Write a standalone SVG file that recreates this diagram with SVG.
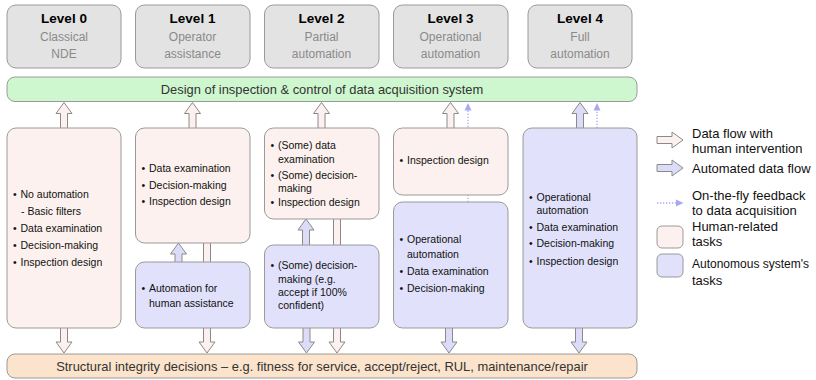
<svg xmlns="http://www.w3.org/2000/svg" width="816" height="380" viewBox="0 0 816 380">
<style>
text{font-family:"Liberation Sans",Arial,sans-serif;}
.hdr{fill:#e3e3e3;stroke:#9a9a9a;stroke-width:1;}
.lvl{font-size:13.5px;font-weight:bold;fill:#000;text-anchor:middle;}
.sub{font-size:12px;fill:#8a8a8a;text-anchor:middle;}
.green{fill:#cff7cf;stroke:#9a9a9a;stroke-width:1;}
.orange{fill:#fbe3cc;stroke:#9a9a9a;stroke-width:1;}
.pink{fill:#fcf1ee;stroke:#9a9a9a;stroke-width:1;}
.blue{fill:#e1e1fb;stroke:#9a9a9a;stroke-width:1;}
.bar{font-size:12.9px;fill:#333;text-anchor:middle;}
.t{font-size:10.5px;fill:#111;}
.leg{font-size:13px;fill:#111;}
.ap{fill:#fcf1ee;stroke:#8a8a8a;stroke-width:1;}
.ab{fill:#dcdcf8;stroke:#8a8a8a;stroke-width:1;}
.dot{stroke:#a8a8f0;stroke-width:1.3;stroke-dasharray:1.3 1.7;fill:none;}
.dh{fill:#a8a8f0;}
</style>

<g id="connectors">
  <!-- top arrows -->
  <path class="ap" d="M60.5 128 V113.5 H56 L64 102.5 L72 113.5 H67.5 V128"/>
  <path class="ap" d="M189 128 V113.5 H184.5 L192.5 102.5 L200.5 113.5 H196 V128"/>
  <path class="ap" d="M318 128 V113.5 H313.5 L321.5 102.5 L329.5 113.5 H325 V128"/>
  <path class="ap" d="M447 128 V113.5 H442.5 L450.5 102.5 L458.5 113.5 H454 V128"/>
  <path class="ab" d="M576.5 128 V113.5 H572 L580 102.5 L588 113.5 H583.5 V128"/>
  <!-- dotted feedback arrows -->
  <line class="dot" x1="468" y1="202" x2="468" y2="110"/>
  <polygon class="dh" points="464.5,110.5 471.5,110.5 468,103"/>
  <line class="dot" x1="597" y1="128" x2="597" y2="110"/>
  <polygon class="dh" points="593.5,110.5 600.5,110.5 597,103"/>
  <!-- middle up arrows -->
  <path class="ab" d="M175 262 V254 H170.5 L178.5 243 L186.5 254 H182 V262"/>
  <path class="ab" d="M302.5 245 V230 H298 L306 219 L314 230 H309.5 V245"/>
  <!-- down arrows -->
  <path class="ap" d="M60.5 328 V342 H56 L64 353 L72 342 H67.5 V328"/>
  <path class="ap" d="M203.5 243 V342 H199 L207 353 L215 342 H210.5 V243"/>
  <path class="ap" d="M333.5 219 V342 H329 L337 353 L345 342 H340.5 V219"/>
  <path class="ab" d="M303 328 V342 H298.5 L306.5 353 L314.5 342 H310 V328"/>
  <path class="ab" d="M445.5 328 V342 H441 L449 353 L457 342 H452.5 V328"/>
  <path class="ab" d="M575.5 328 V342 H571 L579 353 L587 342 H582.5 V328"/>
</g>

<g id="level0"><rect class="hdr" x="7" y="5" width="114" height="63" rx="9"/>
<text class="lvl" x="64" y="23">Level 0</text><text class="sub" x="64" y="41">Classical</text><text class="sub" x="64" y="58">NDE</text></g>
<g id="level1"><rect class="hdr" x="135.5" y="5" width="114.5" height="63" rx="9"/>
<text class="lvl" x="192.5" y="23">Level 1</text><text class="sub" x="192.5" y="41">Operator</text><text class="sub" x="192.5" y="58">assistance</text></g>
<g id="level2"><rect class="hdr" x="264.5" y="5" width="114.5" height="63" rx="9"/>
<text class="lvl" x="321.5" y="23">Level 2</text><text class="sub" x="321.5" y="41">Partial</text><text class="sub" x="321.5" y="58">automation</text></g>
<g id="level3"><rect class="hdr" x="393.5" y="5" width="114.5" height="63" rx="9"/>
<text class="lvl" x="450.5" y="23">Level 3</text><text class="sub" x="450.5" y="41">Operational</text><text class="sub" x="450.5" y="58">automation</text></g>
<g id="level4"><rect class="hdr" x="528" y="5" width="104" height="63" rx="9"/>
<text class="lvl" x="580" y="23">Level 4</text><text class="sub" x="580" y="41">Full</text><text class="sub" x="580" y="58">automation</text></g>

<g id="design-bar"><rect class="green" x="7" y="77" width="630" height="24.5" rx="8"/>
<text class="bar" x="322" y="93.5">Design of inspection &amp; control of data acquisition system</text></g>

<g id="decisions-bar"><rect class="orange" x="7" y="354" width="630" height="24" rx="8"/>
<text class="bar" x="322" y="370.5">Structural integrity decisions – e.g. fitness for service, accept/reject, RUL, maintenance/repair</text></g>

<g id="col0-human"><rect class="pink" x="7" y="128" width="114" height="200" rx="9"/>
<text class="t"><tspan x="13" y="197.5">•</tspan><tspan x="20.5" y="197.5">No automation</tspan>
<tspan x="21" y="214.5">- Basic filters</tspan>
<tspan x="13" y="231.5">•</tspan><tspan x="20.5" y="231.5">Data examination</tspan>
<tspan x="13" y="248.5">•</tspan><tspan x="20.5" y="248.5">Decision-making</tspan>
<tspan x="13" y="265.5">•</tspan><tspan x="20.5" y="265.5">Inspection design</tspan></text></g>

<g id="col1-human"><rect class="pink" x="135.5" y="128" width="114.5" height="115" rx="9"/>
<text class="t"><tspan x="141.5" y="171.5">•</tspan><tspan x="149" y="171.5">Data examination</tspan>
<tspan x="141.5" y="188.5">•</tspan><tspan x="149" y="188.5">Decision-making</tspan>
<tspan x="141.5" y="205">•</tspan><tspan x="149" y="205">Inspection design</tspan></text></g>

<g id="col1-auto"><rect class="blue" x="135.5" y="262" width="114.5" height="66" rx="9"/>
<text class="t"><tspan x="141.5" y="292">•</tspan><tspan x="149" y="292">Automation for</tspan>
<tspan x="149" y="307">human assistance</tspan></text></g>

<g id="col2-human"><rect class="pink" x="264.5" y="128" width="114.5" height="91" rx="9"/>
<text class="t"><tspan x="270.5" y="148.5">•</tspan><tspan x="278" y="148.5">(Some) data</tspan>
<tspan x="278" y="163">examination</tspan>
<tspan x="270.5" y="178.5">•</tspan><tspan x="278" y="178.5">(Some) decision-</tspan>
<tspan x="278" y="192">making</tspan>
<tspan x="270.5" y="205.5">•</tspan><tspan x="278" y="205.5">Inspection design</tspan></text></g>

<g id="col2-auto"><rect class="blue" x="264.5" y="245" width="114.5" height="83" rx="9"/>
<text class="t"><tspan x="270.5" y="269">•</tspan><tspan x="278" y="269">(Some) decision-</tspan>
<tspan x="278" y="282.5">making (e.g.</tspan>
<tspan x="278" y="296">accept if 100%</tspan>
<tspan x="278" y="309">confident)</tspan></text></g>

<g id="col3-human"><rect class="pink" x="393.5" y="128" width="114.5" height="67" rx="9"/>
<text class="t"><tspan x="399.5" y="163.5">•</tspan><tspan x="407" y="163.5">Inspection design</tspan></text></g>

<g id="col3-auto"><rect class="blue" x="393.5" y="202" width="114.5" height="126" rx="9"/>
<text class="t"><tspan x="399.5" y="243">•</tspan><tspan x="407" y="243">Operational</tspan>
<tspan x="407" y="258">automation</tspan>
<tspan x="399.5" y="274.5">•</tspan><tspan x="407" y="274.5">Data examination</tspan>
<tspan x="399.5" y="291.5">•</tspan><tspan x="407" y="291.5">Decision-making</tspan></text></g>

<g id="col4-auto"><rect class="blue" x="523" y="128" width="114" height="200" rx="9"/>
<text class="t"><tspan x="529" y="200.5">•</tspan><tspan x="536.5" y="200.5">Operational</tspan>
<tspan x="536.5" y="213.5">automation</tspan>
<tspan x="529" y="230.5">•</tspan><tspan x="536.5" y="230.5">Data examination</tspan>
<tspan x="529" y="247">•</tspan><tspan x="536.5" y="247">Decision-making</tspan>
<tspan x="529" y="264.5">•</tspan><tspan x="536.5" y="264.5">Inspection design</tspan></text></g>

<g id="legend">
  <path class="ap" d="M657 136.5 H672 V132 L683 140 L672 148 V143.5 H657 Z"/>
  <text class="leg" x="692" y="138">Data flow with</text>
  <text class="leg" x="692" y="153">human intervention</text>
  <path class="ab" d="M657 164.5 H672 V160 L683 168 L672 176 V171.5 H657 Z"/>
  <text class="leg" x="692" y="173">Automated data flow</text>
  <line class="dot" x1="657" y1="203" x2="676" y2="203"/>
  <polygon class="dh" points="676,199.5 676,206.5 683.5,203"/>
  <text class="leg" x="692" y="199.5">On-the-fly feedback</text>
  <text class="leg" x="692" y="214.5">to data acquisition</text>
  <rect class="pink" x="657" y="226" width="26" height="22" rx="5"/>
  <text class="leg" x="692" y="230.5">Human-related</text>
  <text class="leg" x="692" y="246">tasks</text>
  <rect class="blue" x="657" y="254" width="26" height="23" rx="5"/>
  <text class="leg" x="692" y="268" style="font-size:12px">Autonomous system's</text>
  <text class="leg" x="692" y="284.5">tasks</text>
</g>
</svg>
